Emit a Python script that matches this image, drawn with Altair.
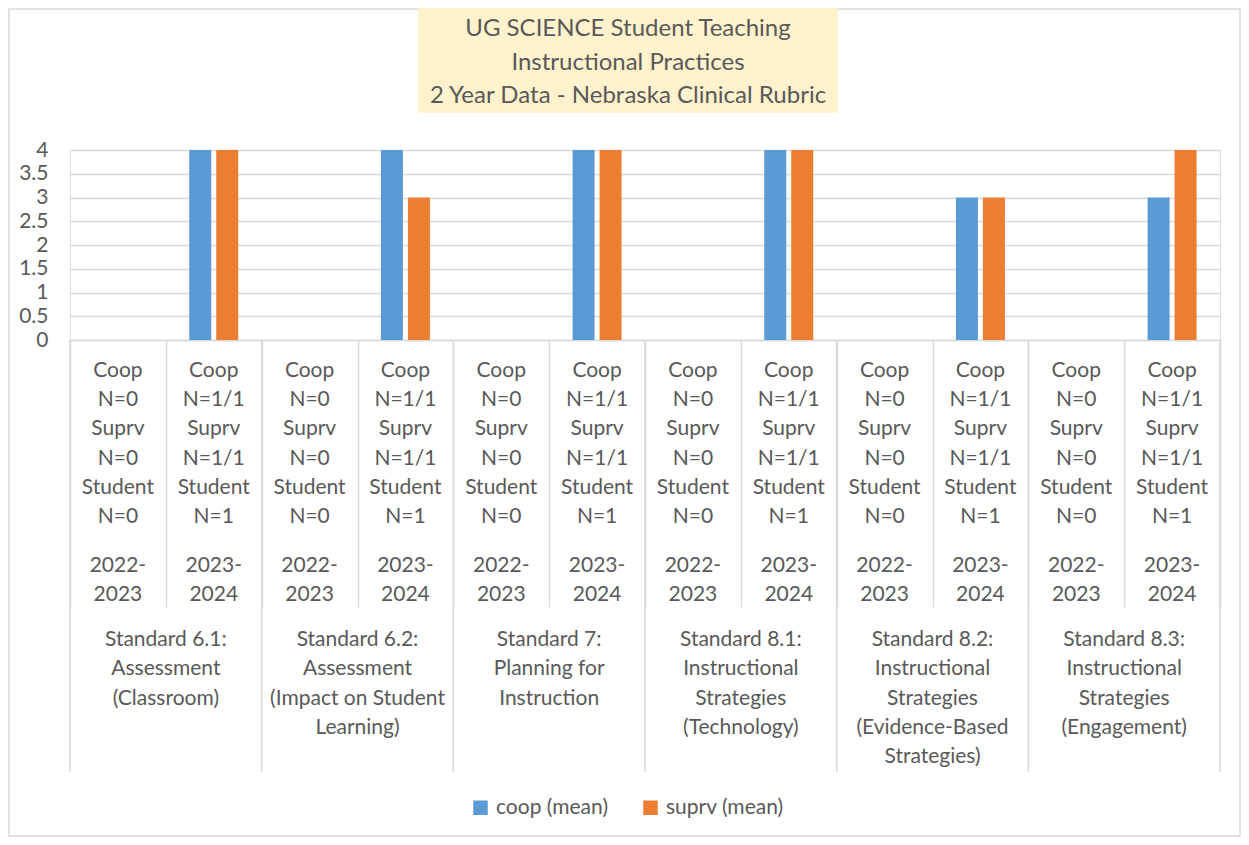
import altair as alt
import pandas as pd

# ---------------- data ----------------
standards = [
    "Standard 6.1:\nAssessment\n(Classroom)",
    "Standard 6.2:\nAssessment\n(Impact on Student\nLearning)",
    "Standard 7:\nPlanning for\nInstruction",
    "Standard 8.1:\nInstructional\nStrategies\n(Technology)",
    "Standard 8.2:\nInstructional\nStrategies\n(Evidence-Based\nStrategies)",
    "Standard 8.3:\nInstructional\nStrategies\n(Engagement)",
]
years = ["2022-\n2023", "2023-\n2024"]
coop_n = ["0", "1/1"]
suprv_n = ["0", "1/1"]
student_n = ["0", "1"]
# means for 2023-2024 (2022-2023 has no data: N=0)
coop_mean = [4, 4, 4, 4, 3, 3]
suprv_mean = [4, 3, 4, 4, 3, 4]
series = ["coop (mean)", "suprv (mean)"]
colors = ["#5B9BD5", "#ED7D31"]
title_lines = "UG SCIENCE Student Teaching\nInstructional Practices\n2 Year Data - Nebraska Clinical Rubric"

# ---------------- tables ----------------
cats = []
cell_rows = []
for si in range(len(standards)):
    for yi, yr in enumerate(years):
        key = f"S{si}_Y{yi}"
        cats.append(key)
        cell_rows.append({
            "cat": key,
            "nblock": f"Coop\nN={coop_n[yi]}\nSuprv\nN={suprv_n[yi]}\nStudent\nN={student_n[yi]}",
            "year": yr,
        })
cells = pd.DataFrame(cell_rows)

bar_rows = []
for si in range(len(standards)):
    key = f"S{si}_Y1"
    bar_rows.append({"cat": key, "series": series[0], "value": coop_mean[si]})
    bar_rows.append({"cat": key, "series": series[1], "value": suprv_mean[si]})
bars_df = pd.DataFrame(bar_rows)

group_df = pd.DataFrame({"cat": [f"S{si}_Y0" for si in range(len(standards))],
                         "label": standards})
last_df = pd.DataFrame({"cat": [cats[-1]]})
title_df = pd.DataFrame({"t": [title_lines]})

FONT = "Lato"
TXT = "#595959"
GRID = "#D9D9D9"
W, H = 1150, 190
FS = 21

xscale = alt.Scale(domain=cats, paddingInner=0, paddingOuter=0)
x_axis = alt.Axis(labels=False, title=None, grid=False, tickBand="extent",
                  tickSize=267, tickColor=GRID, tickWidth=1.5,
                  domainColor=GRID, domainWidth=1.5)

# outer border
border = alt.Chart(title_df).mark_rect(fillOpacity=0, stroke=GRID, strokeWidth=1.5).encode(
    x=alt.value(-61), x2=alt.value(1170), y=alt.value(-141), y2=alt.value(686))

# title box & text
tbox = alt.Chart(title_df).mark_rect(fill="#FFF2CC").encode(
    x=alt.value(348), x2=alt.value(768), y=alt.value(-142), y2=alt.value(-37))
ttext = alt.Chart(title_df).mark_text(
    font=FONT, fontSize=24, color=TXT, lineBreak="\n", lineHeight=33.5,
    align="center", baseline="alphabetic").encode(
    x=alt.value(558), y=alt.value(-114), text="t:N")

bars = alt.Chart(bars_df).mark_bar().encode(
    x=alt.X("cat:N", scale=xscale, axis=x_axis, sort=cats),
    xOffset=alt.XOffset("series:N", scale=alt.Scale(domain=series, paddingInner=0.185, paddingOuter=0.867)),
    y=alt.Y("value:Q", scale=alt.Scale(domain=[0, 4], nice=False),
            axis=alt.Axis(values=[0, 0.5, 1, 1.5, 2, 2.5, 3, 3.5, 4], format="~g",
                          title=None, domain=False, ticks=False, labelPadding=22,
                          labelFont=FONT, labelFontSize=FS, labelColor=TXT,
                          gridColor=GRID, gridWidth=1.5)),
    color=alt.Color("series:N", scale=alt.Scale(domain=series, range=colors),
                    legend=alt.Legend(orient="none", legendX=400, legendY=647,
                                      direction="horizontal", title=None,
                                      symbolType="square", symbolSize=210,
                                      symbolStrokeWidth=0, labelFont=FONT,
                                      labelFontSize=FS, labelColor=TXT,
                                      labelOffset=5, columnPadding=32)),
)

nblock = alt.Chart(cells).mark_text(
    font=FONT, fontSize=FS, color=TXT, lineBreak="\n", lineHeight=29.3,
    align="center", baseline="alphabetic").encode(
    x=alt.X("cat:N", scale=xscale, sort=cats), y=alt.value(226.7), text="nblock:N")

yblock = alt.Chart(cells).mark_text(
    font=FONT, fontSize=FS, color=TXT, lineBreak="\n", lineHeight=29.3,
    align="center", baseline="alphabetic").encode(
    x=alt.X("cat:N", scale=xscale, sort=cats), y=alt.value(421.7), text="year:N")

glines = alt.Chart(group_df).mark_rule(color=GRID, strokeWidth=1.5).encode(
    x=alt.X("cat:N", scale=xscale, sort=cats, bandPosition=0),
    y=alt.value(190), y2=alt.value(622))

gline_last = alt.Chart(last_df).mark_rule(color=GRID, strokeWidth=1.5).encode(
    x=alt.X("cat:N", scale=xscale, sort=cats, bandPosition=1),
    y=alt.value(190), y2=alt.value(622))

glabels = alt.Chart(group_df).mark_text(
    font=FONT, fontSize=FS, color=TXT, lineBreak="\n", lineHeight=29.3,
    align="center", baseline="alphabetic").encode(
    x=alt.X("cat:N", scale=xscale, sort=cats, bandPosition=1),
    y=alt.value(496), text="label:N")

chart = alt.layer(border, tbox, ttext, bars, nblock, yblock, glines, gline_last, glabels).properties(
    width=W, height=H,
    autosize=alt.AutoSizeParams(type="none"),
    padding={"left": 62, "top": 142, "right": 21, "bottom": 497},
).configure_view(stroke=None).configure(background="white")

chart.save("out.html", embed_options={"renderer": "svg", "actions": False})
